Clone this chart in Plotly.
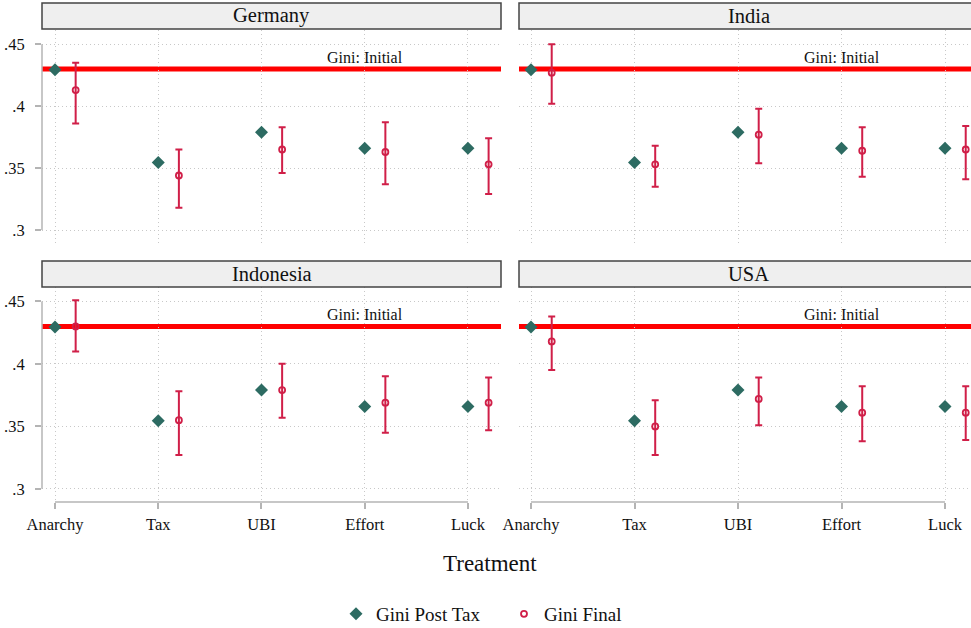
import plotly.graph_objects as go

# ---------------- data ----------------
categories = ["Anarchy", "Tax", "UBI", "Effort", "Luck"]
countries = ["Germany", "India", "Indonesia", "USA"]
gini_initial = 0.43
gini_post_tax = [0.4295, 0.3545, 0.379, 0.366, 0.366]

germany_final = [0.413, 0.344, 0.365, 0.363, 0.353]
germany_lo = [0.386, 0.318, 0.346, 0.337, 0.329]
germany_hi = [0.435, 0.365, 0.383, 0.387, 0.374]

india_final = [0.427, 0.353, 0.377, 0.364, 0.365]
india_lo = [0.402, 0.335, 0.354, 0.343, 0.341]
india_hi = [0.450, 0.368, 0.398, 0.383, 0.384]

indonesia_final = [0.430, 0.355, 0.379, 0.369, 0.369]
indonesia_lo = [0.410, 0.327, 0.357, 0.345, 0.347]
indonesia_hi = [0.451, 0.378, 0.400, 0.390, 0.389]

usa_final = [0.418, 0.350, 0.372, 0.361, 0.361]
usa_lo = [0.395, 0.327, 0.351, 0.338, 0.339]
usa_hi = [0.438, 0.371, 0.389, 0.382, 0.382]

y_tickvals = [0.30, 0.35, 0.40, 0.45]
y_ticktext = [".3", ".35", ".4", ".45"]

finals = [germany_final, india_final, indonesia_final, usa_final]
lows = [germany_lo, india_lo, indonesia_lo, usa_lo]
highs = [germany_hi, india_hi, indonesia_hi, usa_hi]

# ---------------- style ----------------
W, H = 971, 628
FONT = "Liberation Serif"
GREEN = "#2d6b62"
RED = "#d01f48"
LINE_RED = "#ff0000"
AXIS_GREY = "#b4b4b4"
GRID_GREY = "#c8c8c8"
DODGE = 0.2

xdom = [[42 / W, 501 / W], [519 / W, 1.0]]
ydom = [[1 - 243 / H, 1 - 30 / H], [1 - 502 / H, 1 - 287 / H]]
strip_px = [(3, 29), (261, 287)]
xranges = [[-0.126, 4.32], [-0.116, 4.251]]
yrange = [0.2895, 0.4615]

xi = list(range(len(categories)))

fig = go.Figure()
shapes = []
annotations = []

for k, country in enumerate(countries):
    r, c = divmod(k, 2)
    n = k + 1
    xa = "x" if n == 1 else f"x{n}"
    ya = "y" if n == 1 else f"y{n}"
    lay_x = "xaxis" if n == 1 else f"xaxis{n}"
    lay_y = "yaxis" if n == 1 else f"yaxis{n}"

    fig.add_trace(go.Scatter(
        x=xi, y=gini_post_tax, mode="markers", name="Gini Post Tax",
        marker=dict(symbol="diamond", size=10, color=GREEN),
        xaxis=xa, yaxis=ya, showlegend=(k == 0), legendgroup="post",
        cliponaxis=False))
    fin = finals[k]
    fig.add_trace(go.Scatter(
        x=[v + DODGE for v in xi], y=fin, mode="markers", name="Gini Final",
        marker=dict(symbol="circle-open", size=6, color=RED, line=dict(width=1.8, color=RED)),
        error_y=dict(type="data", symmetric=False,
                     array=[h - f for h, f in zip(highs[k], fin)],
                     arrayminus=[f - l for f, l in zip(fin, lows[k])],
                     color=RED, thickness=2, width=3.5),
        xaxis=xa, yaxis=ya, showlegend=(k == 0), legendgroup="final",
        cliponaxis=False))

    bottom = (r == 1)
    fig.layout[lay_x] = dict(
        domain=xdom[c], range=xranges[c], anchor=ya, automargin=False,
        tickvals=xi, ticktext=categories if bottom else [""] * len(xi),
        showticklabels=bottom, ticks="outside" if bottom else "",
        ticklen=6, tickwidth=1.5, tickcolor=AXIS_GREY,
        showgrid=True, gridcolor=GRID_GREY, griddash="1px,3px", gridwidth=1,
        zeroline=False, showline=False,
        tickfont=dict(family=FONT, size=16.5, color="#111"),
        ticklabelstandoff=1,
    )
    left = (c == 0)
    fig.layout[lay_y] = dict(
        domain=ydom[r], range=yrange, anchor=xa, automargin=False,
        tickvals=y_tickvals, ticktext=y_ticktext,
        showticklabels=left, ticks="outside" if left else "",
        ticklen=6, tickwidth=1.5, tickcolor=AXIS_GREY,
        showgrid=True, gridcolor=GRID_GREY, griddash="1px,3px", gridwidth=1,
        zeroline=False, showline=False,
        tickfont=dict(family=FONT, size=16.5, color="#111"),
        ticklabelstandoff=7,
    )

    # Initial Gini reference line
    shapes.append(dict(type="line", xref=f"{xa} domain", yref=ya,
                       x0=0, x1=1, y0=gini_initial, y1=gini_initial,
                       line=dict(color=LINE_RED, width=5), layer="below"))
    annotations.append(dict(text="Gini: Initial", xref=xa, yref=ya,
                            x=categories.index("Effort"), y=gini_initial,
                            yanchor="bottom", xanchor="center", yshift=1,
                            showarrow=False,
                            font=dict(family=FONT, size=16, color="#111")))
    # axis lines
    if left:
        shapes.append(dict(type="line", xref=f"{xa} domain", yref=ya,
                           x0=0, x1=0, y0=min(y_tickvals), y1=max(y_tickvals),
                           line=dict(color=AXIS_GREY, width=1.5)))
    if bottom:
        shapes.append(dict(type="line", xref=xa, yref=f"{ya} domain",
                           x0=xi[0], x1=xi[-1], y0=0, y1=0,
                           line=dict(color=AXIS_GREY, width=1.5)))
    # strip header
    s0, s1 = strip_px[r]
    shapes.append(dict(type="rect", xref="paper", yref="paper",
                       x0=xdom[c][0], x1=xdom[c][1] + (0.01 if c == 1 else 0),
                       y0=1 - s1 / H, y1=1 - s0 / H,
                       fillcolor="#efefef", line=dict(color="#444444", width=1.5)))
    annotations.append(dict(text=country, xref="paper", yref="paper",
                            x=(xdom[0][0] + xdom[0][1]) / 2 if c == 0 else (519 + 459 / 2) / W,
                            y=1 - (s0 + s1) / 2 / H, xanchor="center", yanchor="middle",
                            showarrow=False,
                            font=dict(family=FONT, size=20.5, color="#111")))

annotations.append(dict(text="Treatment", xref="paper", yref="paper",
                        x=490 / W, y=1 - 563 / H, xanchor="center", yanchor="middle",
                        showarrow=False, font=dict(family=FONT, size=23, color="#111")))

fig.update_layout(
    width=W, height=H,
    margin=dict(l=0, r=0, t=0, b=0, autoexpand=False),
    paper_bgcolor="white", plot_bgcolor="white",
    shapes=shapes, annotations=annotations,
    showlegend=True,
    legend=dict(orientation="h", x=336 / W, xanchor="left",
                y=1 - 614 / H, yanchor="middle",
                font=dict(family=FONT, size=19, color="#111"),
                itemwidth=30, entrywidth=123, entrywidthmode="pixels",
                bgcolor="rgba(0,0,0,0)"),
    font=dict(family=FONT),
)

fig.write_html(
    "out.html",
    config={"displayModeBar": False},
    post_script="document.body.style.margin='0';document.body.style.padding='0';"
                "document.documentElement.style.overflow='hidden';",
)
